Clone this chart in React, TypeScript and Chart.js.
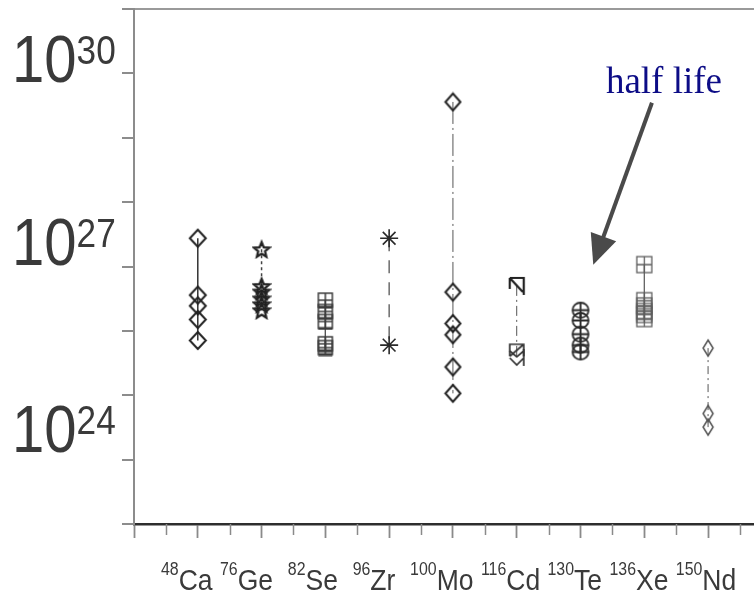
import React, { useEffect, useRef } from 'react';
import { Chart, registerables } from 'chart.js';

Chart.register(...registerables);

// ---------------- data ----------------
const massNumbers = ['48', '76', '82', '96', '100', '116', '130', '136', '150'];
const elements = ['Ca', 'Ge', 'Se', 'Zr', 'Mo', 'Cd', 'Te', 'Xe', 'Nd'];
// spaces that follow each label in the label row
const labelGaps = [' ', '  ', '  ', '  ', ' ', ' ', ' ', ' ', ''];

// half-life values (years) per isotope
const ca48 = [2.75e27, 3.6e26, 2.45e26, 1.5e26, 7.1e25];
const ge76 = [1.86e27, 5.0e26, 4.1e26, 3.2e26, 2.6e26, 2.1e26];
const se82 = [3.0e26, 2.0e26, 1.4e26, 6.3e25, 5.5e25];
const zr96 = [2.75e27, 6.0e25];
const mo100 = [3.6e29, 4.0e26, 1.3e26, 8.7e25, 2.75e25, 1.07e25];
const cd116 = [5.0e26, 5.0e25, 3.8e25];
const te130 = [2.1e26, 1.45e26, 8.9e25, 6.0e25, 4.7e25];
const xe136 = [1.07e27, 2.95e26, 2.45e26, 2.0e26, 1.8e26, 1.55e26];
const nd150 = [5.4e25, 5.2e24, 3.2e24];
const seriesValues = [ca48, ge76, se82, zr96, mo100, cd116, te130, xe136, nd150];

// axes
const yMinExp = 23;
const yMaxExp = 31;
const yLabelExponents = [30, 27, 24];
const xMin = 0;
const xMax = 9.72;
const xTickStep = 0.5;

// annotation
const annotationText = 'half life';
const arrowFrom = { x: 8.12, y: 3.5e29 };
const arrowTo = { x: 7.2, y: 1.06e27 };

// ---------------- markers ----------------
type Ctx = CanvasRenderingContext2D;
function makeCanvas(w: number, h: number, draw: (ctx: Ctx, cx: number, cy: number) => void) {
  const c = document.createElement('canvas');
  c.width = w;
  c.height = h;
  const ctx = c.getContext('2d') as Ctx;
  draw(ctx, w / 2, h / 2);
  return c;
}
function diamond(w: number, h: number, color: string, lw: number) {
  return makeCanvas(w + 4, h + 4, (ctx, cx, cy) => {
    ctx.strokeStyle = color;
    ctx.lineWidth = lw;
    ctx.beginPath();
    ctx.moveTo(cx, cy - h / 2);
    ctx.lineTo(cx + w / 2, cy);
    ctx.lineTo(cx, cy + h / 2);
    ctx.lineTo(cx - w / 2, cy);
    ctx.closePath();
    ctx.stroke();
  });
}
function star5(R: number, r: number, color: string, lw: number) {
  const s = Math.ceil(2 * R + 4);
  return makeCanvas(s, s, (ctx, cx, cy) => {
    ctx.strokeStyle = color;
    ctx.lineWidth = lw;
    ctx.beginPath();
    for (let i = 0; i < 10; i++) {
      const a = -Math.PI / 2 + (i * Math.PI) / 5;
      const rr = i % 2 === 0 ? R : r;
      const px = cx + rr * Math.cos(a);
      const py = cy + 1 + rr * Math.sin(a);
      if (i === 0) ctx.moveTo(px, py);
      else ctx.lineTo(px, py);
    }
    ctx.closePath();
    ctx.stroke();
  });
}
function squareCross(w: number, h: number, color: string, lw: number, thickBottom: boolean) {
  return makeCanvas(w + 4, h + 4, (ctx, cx, cy) => {
    ctx.strokeStyle = color;
    ctx.lineWidth = lw;
    ctx.strokeRect(cx - w / 2, cy - h / 2, w, h);
    ctx.beginPath();
    ctx.moveTo(cx, cy - h / 2);
    ctx.lineTo(cx, cy + h / 2);
    ctx.moveTo(cx - w / 2, cy);
    ctx.lineTo(cx + w / 2, cy);
    ctx.stroke();
    if (thickBottom) {
      ctx.lineWidth = lw * 2;
      ctx.beginPath();
      ctx.moveTo(cx - w / 2, cy + h / 2);
      ctx.lineTo(cx + w / 2, cy + h / 2);
      ctx.stroke();
    }
  });
}
function circleCross(w: number, h: number, color: string, lw: number) {
  return makeCanvas(w + 4, h + 4, (ctx, cx, cy) => {
    ctx.strokeStyle = color;
    ctx.lineWidth = lw;
    ctx.beginPath();
    ctx.ellipse(cx, cy, w / 2, h / 2, 0, 0, Math.PI * 2);
    ctx.moveTo(cx, cy - h / 2);
    ctx.lineTo(cx, cy + h / 2);
    ctx.moveTo(cx - w / 2, cy);
    ctx.lineTo(cx + w / 2, cy);
    ctx.stroke();
  });
}
function cdUpper(color: string, lw: number) {
  return makeCanvas(18, 22, (ctx, cx, cy) => {
    ctx.strokeStyle = color;
    ctx.lineWidth = lw;
    ctx.beginPath();
    ctx.moveTo(cx - 7, cy - 8);
    ctx.lineTo(cx + 7, cy - 8);
    ctx.lineTo(cx + 7, cy + 9);
    ctx.moveTo(cx - 7, cy - 8);
    ctx.lineTo(cx + 6, cy + 6);
    ctx.moveTo(cx - 7, cy - 8);
    ctx.lineTo(cx - 7, cy + 3);
    ctx.stroke();
  });
}
function cdSquare(color: string, lw: number) {
  return makeCanvas(18, 18, (ctx, cx, cy) => {
    ctx.strokeStyle = color;
    ctx.lineWidth = lw;
    ctx.beginPath();
    ctx.moveTo(cx - 7, cy + 6);
    ctx.lineTo(cx - 7, cy - 6);
    ctx.lineTo(cx + 7, cy - 6);
    ctx.lineTo(cx + 7, cy + 6);
    ctx.moveTo(cx + 7, cy - 6);
    ctx.lineTo(cx - 7, cy + 6);
    ctx.stroke();
  });
}
function cdChevron(color: string, lw: number) {
  return makeCanvas(18, 20, (ctx, cx, cy) => {
    ctx.strokeStyle = color;
    ctx.lineWidth = lw;
    ctx.beginPath();
    ctx.moveTo(cx - 7, cy - 7);
    ctx.lineTo(cx, cy - 1);
    ctx.lineTo(cx + 7, cy - 7);
    ctx.moveTo(cx - 7, cy);
    ctx.lineTo(cx, cy + 7);
    ctx.lineTo(cx + 7, cy);
    ctx.moveTo(cx + 7, cy - 9);
    ctx.lineTo(cx + 7, cy + 8);
    ctx.stroke();
  });
}

// ---------------- decorations plugin ----------------
const textColor = '#3a3a3a';
const xLabelScaleX = 0.884;
const yLabelScaleX = 0.88;
const yLabelBaselineShift = [8.6, -1.6, -7.8];

const decorPlugin = {
  id: 'decor',
  afterDraw(chart: any) {
    const ctx: Ctx = chart.ctx;
    const xs = chart.scales.x;
    const ys = chart.scales.y;
    const area = chart.chartArea;
    ctx.save();

    // minor x ticks (shorter)
    ctx.strokeStyle = '#8a8a8a';
    ctx.lineWidth = 1.5;
    ctx.beginPath();
    for (let v = xMin; v <= xMax + 1e-9; v += xTickStep) {
      if (Math.abs(v - Math.round(v)) < 1e-6) continue;
      const px = Math.round(xs.getPixelForValue(v)) + 0.5;
      ctx.moveTo(px, area.bottom);
      ctx.lineTo(px, area.bottom + 11);
    }
    ctx.stroke();

    // y labels 10^n
    ctx.fillStyle = textColor;
    ctx.textBaseline = 'alphabetic';
    ctx.textAlign = 'left';
    yLabelExponents.forEach((e, i) => {
      const base = ys.getPixelForValue(Math.pow(10, e)) + yLabelBaselineShift[i];
      const x0 = 12;
      ctx.save();
      ctx.translate(x0, base);
      ctx.scale(yLabelScaleX, 1);
      ctx.font = '66px "Liberation Sans", Arial, sans-serif';
      ctx.fillText('10', 0, 0);
      const w = ctx.measureText('10').width;
      ctx.font = '40px "Liberation Sans", Arial, sans-serif';
      ctx.fillText(String(e), w, -18);
      ctx.restore();
    });

    // x labels row
    const xBase = area.bottom + 66;
    let cx = area.left + 27;
    elements.forEach((el, i) => {
      ctx.save();
      ctx.translate(cx, xBase);
      ctx.scale(xLabelScaleX, 1);
      ctx.font = '18px "Liberation Sans", Arial, sans-serif';
      ctx.fillText(massNumbers[i], 0, -15);
      let w = ctx.measureText(massNumbers[i]).width;
      ctx.font = '30px "Liberation Sans", Arial, sans-serif';
      ctx.fillText(el, w, 0);
      w += ctx.measureText(el + labelGaps[i]).width;
      ctx.restore();
      cx += w * xLabelScaleX;
    });

    // arrow
    const x1 = xs.getPixelForValue(arrowFrom.x);
    const y1 = ys.getPixelForValue(arrowFrom.y);
    const x2 = xs.getPixelForValue(arrowTo.x);
    const y2 = ys.getPixelForValue(arrowTo.y);
    const dx = x2 - x1;
    const dy = y2 - y1;
    const len = Math.hypot(dx, dy);
    const ux = dx / len;
    const uy = dy / len;
    const headLen = 30;
    const headHalf = 13.5;
    const bx = x2 - ux * headLen;
    const by = y2 - uy * headLen;
    ctx.strokeStyle = '#4a4a4a';
    ctx.fillStyle = '#4a4a4a';
    ctx.lineWidth = 4;
    ctx.beginPath();
    ctx.moveTo(x1, y1);
    ctx.lineTo(bx + ux * 2, by + uy * 2);
    ctx.stroke();
    ctx.beginPath();
    ctx.moveTo(x2, y2);
    ctx.lineTo(bx - uy * headHalf, by + ux * headHalf);
    ctx.lineTo(bx + uy * headHalf, by - ux * headHalf);
    ctx.closePath();
    ctx.fill();

    // annotation text
    ctx.fillStyle = '#0c0c86';
    ctx.font = '37px "Liberation Serif", "Times New Roman", serif';
    ctx.textAlign = 'center';
    ctx.fillText(annotationText, x1 + 12, y1 - 10);

    ctx.restore();
  },
};

// ---------------- component ----------------
export default function App() {
  const canvasRef = useRef<HTMLCanvasElement | null>(null);

  useEffect(() => {
    const canvas = canvasRef.current;
    if (!canvas) return;

    const markers = [
      diamond(16, 17, '#222222', 2),
      star5(8, 3.6, '#222222', 2.3),
      squareCross(14, 14, '#3c3c3c', 1.5, true),
      'star',
      diamond(15, 17, '#222222', 2),
      [cdUpper('#222222', 2.2), cdSquare('#333333', 1.7), cdChevron('#333333', 1.7)],
      circleCross(16, 15, '#2a2a2a', 1.8),
      squareCross(15, 16, '#5e5e5e', 1.3, false),
      diamond(10, 16, '#555555', 1.5),
    ];
    const lineStyles = [
      { color: '#333333', width: 1.5, dash: [] as number[] },
      { color: '#444444', width: 1.5, dash: [3, 3] },
      { color: '#555555', width: 1, dash: [] },
      { color: '#555555', width: 1.3, dash: [13, 9] },
      { color: '#555555', width: 1, dash: [22, 4, 2, 4] },
      { color: '#555555', width: 1, dash: [10, 4, 2, 4] },
      { color: '#444444', width: 1, dash: [] },
      { color: '#555555', width: 1.2, dash: [] },
      { color: '#555555', width: 1, dash: [8, 4, 2, 4] },
    ];

    const datasets = seriesValues.map((vals, i) => ({
      label: massNumbers[i] + elements[i],
      data: vals.map((v) => ({ x: i + 1, y: v })),
      showLine: true,
      borderColor: lineStyles[i].color,
      borderWidth: lineStyles[i].width,
      borderDash: lineStyles[i].dash,
      pointStyle: markers[i] as any,
      pointRadius: i === 3 ? 9 : 8,
      pointBorderColor: '#2a2a2a',
      pointBorderWidth: 1.6,
      pointBackgroundColor: 'rgba(0,0,0,0)',
    }));

    const yTicks: number[] = [];
    for (let e = yMinExp; e <= yMaxExp; e++) yTicks.push(Math.pow(10, e));
    const xTicks: number[] = [];
    for (let v = xMin; v <= xMax + 1e-9; v += xTickStep) xTicks.push(v);

    const chart = new Chart(canvas, {
      type: 'scatter',
      data: { datasets },
      options: {
        animation: false,
        responsive: false,
        devicePixelRatio: 1,
        events: [],
        layout: { padding: { left: 122, top: 9, right: 0, bottom: 57 }, autoPadding: false },
        plugins: { legend: { display: false }, tooltip: { enabled: false } },
        scales: {
          x: {
            type: 'linear',
            min: xMin,
            max: xMax,
            afterBuildTicks: (s: any) => {
              s.ticks = xTicks.map((v) => ({ value: v }));
            },
            ticks: { display: false },
            grid: {
              drawOnChartArea: false,
              tickLength: 14,
              tickWidth: 1.8,
              tickColor: (c: any) =>
                c.tick && Math.abs(c.tick.value - Math.round(c.tick.value)) < 1e-6 ? '#8a8a8a' : 'rgba(0,0,0,0)',
            },
            border: { display: true, color: '#2e2e2e', width: 2.5 },
          },
          y: {
            type: 'logarithmic',
            min: Math.pow(10, yMinExp),
            max: Math.pow(10, yMaxExp),
            afterBuildTicks: (s: any) => {
              s.ticks = yTicks.map((v) => ({ value: v }));
            },
            ticks: { display: false },
            grid: {
              drawOnChartArea: true,
              lineWidth: 2,
              color: (c: any) =>
                c.tick && c.tick.value >= Math.pow(10, yMaxExp) * 0.999 ? '#9a9a9a' : 'rgba(0,0,0,0)',
              tickLength: 12,
              tickWidth: 2,
              tickColor: '#8c8c8c',
            },
            border: { display: true, color: '#8c8c8c', width: 2 },
          },
        },
      },
      plugins: [decorPlugin],
    } as any);

    return () => chart.destroy();
  }, []);

  return (
    <div style={{ position: 'fixed', left: 0, top: 0, width: 754, height: 595, background: '#ffffff' }}>
      <canvas ref={canvasRef} width={754} height={595} style={{ display: 'block', width: 754, height: 595 }} />
    </div>
  );
}
